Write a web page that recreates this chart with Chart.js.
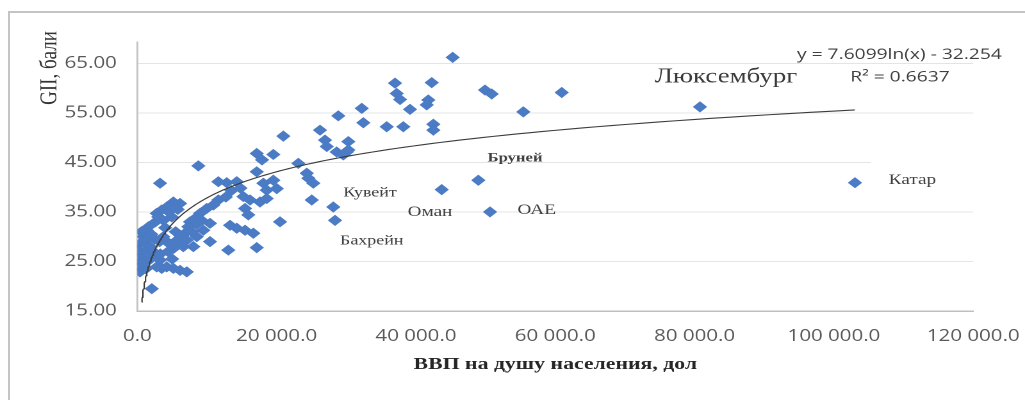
<!DOCTYPE html>
<html lang="ru">
<head>
<meta charset="utf-8">
<title>GII и ВВП на душу населения</title>
<script src="https://cdn.jsdelivr.net/npm/chart.js@4"></script>
<style>
  html, body { margin: 0; padding: 0; background: #fff; }
  #wrap { position: relative; width: 1025px; height: 400px; overflow: hidden; }
  #frame { position: absolute; left: 8px; top: 11px; right: -10px; bottom: -10px;
           border-left: 2px solid #c4c4c4; border-top: 2px solid #c4c4c4; }
  #chart { position: absolute; left: 0; top: 0; }
</style>
</head>
<body>
<div id="wrap">
  <div id="frame"></div>
  <canvas id="chart" width="800" height="400" style="width:1025px;height:400px"></canvas>
</div>
<script>
// GDP per capita (USD) and GII score for each country
const gdpPerCapita = [
  45270, 36990, 42260, 37230, 37710, 41770, 41540, 39140, 32210, 28850,
  32440, 35800, 38180, 42490, 42490, 26220, 26940, 27190, 28620, 30290,
  30290, 29570, 30060, 49910, 50870, 55410, 60920, 48950, 50630, 43690,
  80770, 103020, 24550, 25260, 25030, 28130, 28380, 20960, 17140, 19520,
  17900, 8760, 23110, 24320, 3260, 12830, 11630, 14270, 18090, 19520,
  20010, 18570, 17140, 15220, 16180, 15460, 15930, 17610, 18570, 20480,
  11630, 12700, 13500, 10910, 9960, 9000, 8280, 7560, 7320, 6850,
  7090, 6600, 5170, 6130, 4220, 3500, 2780, 3730, 4940, 13310,
  14270, 15460, 16650, 10430, 13060, 17140, 1350, 860, 390, 140,
  390, 300, 390, 1110, 1820, 2540, 3260, 2780, 3500, 4220,
  5170, 6130, 7090, 2070, 4220, 5170, 3730, 8040, 8530, 9470,
  10430, 9240, 1600, 700, 1900, 2500, 1200, 4000, 5500, 6200,
  4700, 3200, 5600, 5000, 2600, 600, 14800, 1000, 2000, 2300,
  1500, 800, 3000, 4500, 5800, 7800, 8500, 3300, 4400, 6000
];
const giiScore = [
  66.2, 61.0, 61.1, 58.9, 57.7, 57.6, 56.6, 55.7, 55.9, 54.4,
  53.0, 52.2, 52.2, 52.7, 51.5, 51.5, 49.5, 48.2, 47.1, 49.2,
  47.5, 46.5, 47.1, 59.6, 58.8, 55.2, 59.1, 41.4, 35.0, 39.5,
  56.2, 40.9, 41.8, 40.8, 37.4, 36.0, 33.3, 50.3, 46.8, 46.6,
  45.5, 44.3, 44.8, 42.8, 40.8, 40.9, 41.1, 41.1, 40.8, 41.4,
  39.7, 39.4, 43.1, 38.1, 37.4, 35.7, 34.4, 37.0, 37.7, 33.0,
  37.4, 38.0, 39.3, 36.4, 35.7, 34.7, 33.7, 33.0, 32.0, 30.7,
  29.3, 28.0, 37.0, 36.7, 36.0, 35.4, 34.7, 33.3, 34.0, 32.3,
  31.7, 31.3, 30.7, 29.0, 27.3, 27.8, 31.3, 30.0, 28.6, 27.3,
  25.9, 23.9, 22.9, 29.3, 28.0, 26.6, 25.3, 23.9, 23.6, 23.9,
  23.6, 23.2, 22.9, 19.5, 29.0, 27.6, 30.0, 28.0, 30.0, 31.3,
  32.7, 33.3, 32.0, 25.0, 25.5, 29.5, 23.5, 31.8, 31.0, 30.2,
  28.5, 29.0, 29.2, 25.5, 33.0, 31.0, 39.8, 27.0, 30.5, 27.0,
  26.0, 24.5, 34.0, 35.0, 35.5, 31.0, 32.5, 26.5, 27.0, 28.8
];

// Axis ticks
const yTickValues = [15, 25, 35, 45, 55, 65];
const yTickLabels = ['15.00', '25.00', '35.00', '45.00', '55.00', '65.00'];
const xTickValues = [0, 20000, 40000, 60000, 80000, 100000, 120000];
const xTickLabels = ['0.0', '20 000.0', '40 000.0', '60 000.0', '80 000.0', '100 000.0', '120 000.0'];

// Logarithmic trend: y = a·ln(x) + b
const trendSlope = 7.6099;
const trendIntercept = -32.254;
const trendR2 = 0.6637;
const trendFrom = 630;
const trendTo = 103000;

// Country names shown next to the points
const countryNames = ['Люксембург', 'Бруней', 'Кувейт', 'Оман', 'Бахрейн', 'ОАЕ', 'Катар'];

const axisTitleX = 'ВВП на душу населения, дол';
const axisTitleY = 'GII, бали';

// ---------------------------------------------------------------
const scatterPoints = gdpPerCapita.map((g, i) => ({ x: g, y: giiScore[i] }));

const trendPoints = [];
const trendSteps = 160;
for (let i = 0; i <= trendSteps; i++) {
  const x = trendFrom * Math.pow(trendTo / trendFrom, i / trendSteps);
  trendPoints.push({ x, y: trendSlope * Math.log(x) + trendIntercept });
}

const equationText = 'y = ' + trendSlope + 'ln(x) - ' + Math.abs(trendIntercept);
const r2Text = 'R\u00B2 = ' + trendR2;

// Where each piece of annotation text sits, in data units
const noteLayout = [
  { text: countryNames[0], x: 84500, y: 62.2, font: '21px "Liberation Serif"', color: '#3a3a3a' },
  { text: countryNames[1], x: 54220, y: 45.9, font: 'bold 13px "Liberation Serif"', color: '#404040' },
  { text: countryNames[2], x: 33400, y: 38.9, font: '14px "Liberation Serif"', color: '#404040' },
  { text: countryNames[3], x: 42010, y: 35.0, font: '15px "Liberation Serif"', color: '#404040' },
  { text: countryNames[4], x: 33650, y: 29.2, font: '14px "Liberation Serif"', color: '#404040' },
  { text: countryNames[5], x: 57330, y: 35.4, font: '15px "Liberation Serif"', color: '#404040' },
  { text: countryNames[6], x: 111270, y: 41.4, font: '15px "Liberation Serif"', color: '#404040', box: true },
  { text: equationText, x: 109400, y: 66.7, font: '15px "Open Sans"', color: '#404040' },
  { text: r2Text, x: 109480, y: 62.2, font: '15px "Open Sans"', color: '#404040' }
];

const notesPlugin = {
  id: 'notes',
  beforeDatasetsDraw(chart) {
    // white text box behind the Katar label hides the gridline under it
    const { ctx, scales: { x, y }, chartArea } = chart;
    ctx.save();
    noteLayout.filter(n => n.box).forEach(n => {
      ctx.font = n.font;
      const w = ctx.measureText(n.text).width;
      const cx = x.getPixelForValue(n.x);
      const cy = y.getPixelForValue(n.y);
      const left = cx - w / 2 - 14;
      ctx.fillStyle = '#ffffff';
      ctx.fillRect(left, cy - 20, chartArea.right - left + 1, 38);
    });
    ctx.restore();
  },
  afterDatasetsDraw(chart) {
    const { ctx, scales: { x, y }, chartArea } = chart;
    ctx.save();
    ctx.textAlign = 'center';
    ctx.textBaseline = 'middle';
    noteLayout.forEach(n => {
      ctx.font = n.font;
      ctx.fillStyle = n.color;
      ctx.fillText(n.text, x.getPixelForValue(n.x), y.getPixelForValue(n.y));
    });
    // vertical axis title, placed near the top of the axis
    ctx.translate(chartArea.left - 68, chartArea.top + 26);
    ctx.rotate(-Math.PI / 2);
    ctx.font = '19px "Liberation Serif"';
    ctx.fillStyle = '#333333';
    ctx.fillText(axisTitleY, 0, 0);
    ctx.restore();
  }
};

new Chart(document.getElementById('chart'), {
  type: 'scatter',
  data: {
    datasets: [
      {
        label: 'GII',
        data: scatterPoints,
        pointStyle: 'rectRot',
        pointRadius: 5.6,
        backgroundColor: '#4a7bc4',
        borderWidth: 0,
        order: 2
      },
      {
        type: 'line',
        label: 'Тренд',
        data: trendPoints,
        borderColor: '#3c3c3c',
        borderWidth: 1.1,
        pointRadius: 0,
        fill: false,
        tension: 0,
        order: 1
      }
    ]
  },
  options: {
    responsive: false,
    devicePixelRatio: 2,
    animation: false,
    events: [],
    layout: { padding: { top: 42, right: 40.4, bottom: 0, left: 0 } },
    plugins: {
      legend: { display: false },
      tooltip: { enabled: false }
    },
    scales: {
      x: {
        type: 'linear',
        min: 0,
        max: 120000,
        afterBuildTicks: s => { s.ticks = xTickValues.map(v => ({ value: v })); },
        afterFit: s => {
          // the last tick label may hang into the outer margin
          s.height = 89;
          s.paddingLeft = 0;
          s.paddingRight = 0;
        },
        grid: { display: false, drawTicks: false },
        border: { display: true, color: '#bfbfbf', width: 1.5 },
        ticks: {
          autoSkip: false,
          maxRotation: 0,
          padding: 16,
          color: '#595959',
          font: { family: '"Open Sans"', size: 16 },
          callback: (v, i) => xTickLabels[i]
        },
        title: {
          display: true,
          text: axisTitleX,
          color: '#262626',
          font: { family: '"Liberation Serif"', size: 17, weight: 'bold' },
          padding: { top: 0, bottom: 25 }
        }
      },
      y: {
        type: 'linear',
        min: 15,
        max: 69.3,
        afterBuildTicks: s => { s.ticks = yTickValues.map(v => ({ value: v })); },
        afterFit: s => { s.width = 107.2; },
        grid: { color: '#e4e4e4', lineWidth: 1, drawTicks: false },
        border: { display: true, color: '#c4c4c4', width: 1.5 },
        ticks: {
          padding: 16,
          color: '#595959',
          font: { family: '"Open Sans"', size: 16 },
          callback: (v, i) => yTickLabels[i]
        }
      }
    }
  },
  plugins: [notesPlugin]
});
</script>
</body>
</html>
